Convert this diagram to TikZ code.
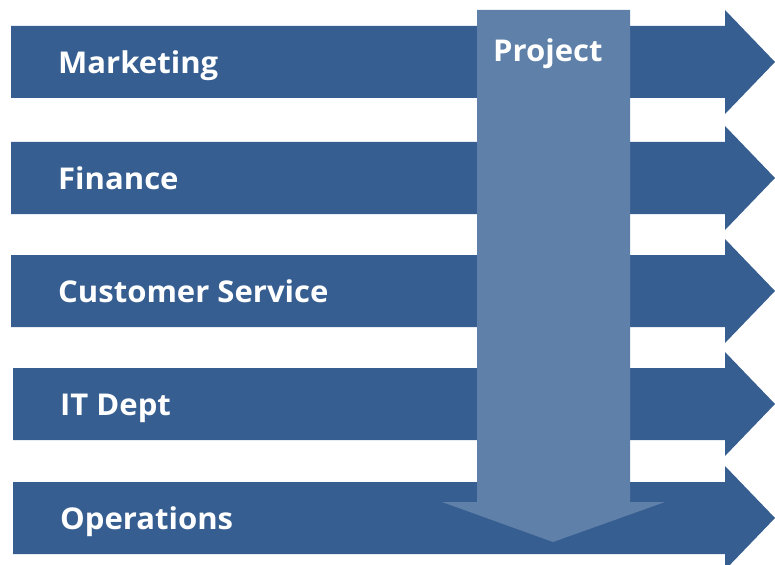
\documentclass[tikz,border=0pt]{standalone}
\usepackage{fontspec}
\setmainfont{Open Sans}[Ligatures=NoCommon,FakeStretch=1.035]
\definecolor{rowblue}{RGB}{54,94,145}
\definecolor{projblue}{RGB}{95,128,168}
\begin{document}
\begin{tikzpicture}[x=1pt,y=-1pt,
  rowarrow/.style={fill=rowblue},
  projarrow/.style={fill=projblue},
  lbl/.style={text=white,font=\fontsize{30}{31}\selectfont\bfseries,anchor=base west,inner sep=0pt}]
\useasboundingbox (0,0) rectangle (775,564);
\foreach \t/\l/\x/\n/\txt in {26/11/58/mk/Marketing,142/11/58/fi/Finance,255/11/58/cs/Customer Service,368/13/60/it/IT Dept,482/13/60/op/Operations}{
  \fill[rowarrow] (\l,\t) -- (725,\t) -- (725,\t-16) -- (775,\t+36) -- (725,\t+88) -- (725,\t+72) -- (\l,\t+72) -- cycle;
  \node[lbl] (\n) at (\x,\t+47.5) {\txt};
}
\fill[projarrow] (477,10) -- (630,10) -- (630,502) -- (665,502) -- (553,542) -- (442,502) -- (477,502) -- cycle;
\node[lbl] (proj) at (493,62) {Project};
\end{tikzpicture}
\end{document}
